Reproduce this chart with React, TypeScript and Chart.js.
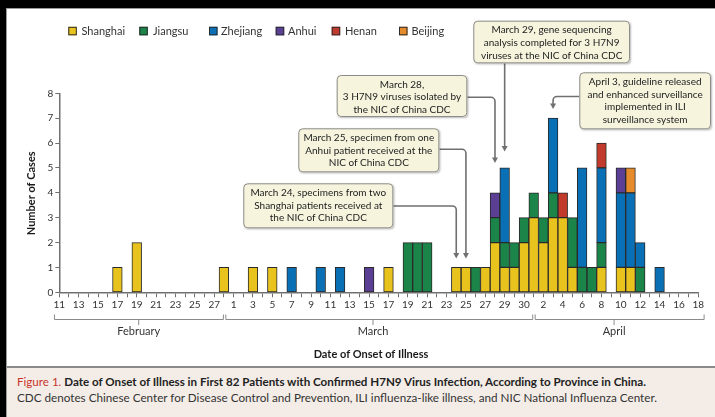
import { useEffect, useRef } from 'react';
import { Chart, registerables } from 'chart.js';

Chart.register(...registerables);

const FONT = 'Lato, "Open Sans", "Noto Sans", sans-serif';

// One category per day of onset, Feb 11 – Apr 18
const range = (a: number, b: number) => Array.from({ length: b - a + 1 }, (_, i) => a + i);
const categories: string[] = [
  ...range(11, 28).map((d) => `Feb ${d}`),
  ...range(1, 31).map((d) => `Mar ${d}`),
  ...range(1, 18).map((d) => `Apr ${d}`),
];

// Labels printed under every second day (as printed in the figure)
const tickLabels = [
  '11', '13', '15', '17', '19', '21', '23', '25', '27',
  '1', '3', '5', '7', '9', '11', '13', '15', '17', '19', '21', '23', '25', '27', '29', '30',
  '2', '4', '6', '8', '10', '12', '14', '16', '18',
];

// Cases per day.  Rows: Feb 11–28 | Mar 1–31 | Apr 1–18
const shanghai = [
  0, 0, 0, 0, 0, 0, 1, 0, 2, 0, 0, 0, 0, 0, 0, 0, 0, 1,
  0, 0, 1, 0, 1, 0, 0, 0, 0, 0, 0, 0, 0, 0, 0, 0, 1, 0, 0, 0, 0, 0, 0, 1, 1, 0, 1, 2, 1, 1, 2,
  3, 2, 3, 3, 1, 0, 0, 1, 0, 1, 1, 0, 0, 0, 0, 0, 0, 0,
];
const jiangsu = [
  0, 0, 0, 0, 0, 0, 0, 0, 0, 0, 0, 0, 0, 0, 0, 0, 0, 0,
  0, 0, 0, 0, 0, 0, 0, 0, 0, 0, 0, 0, 0, 0, 0, 0, 0, 0, 2, 2, 2, 0, 0, 0, 0, 1, 0, 1, 1, 1, 1,
  1, 1, 1, 0, 2, 1, 1, 1, 0, 0, 0, 1, 0, 0, 0, 0, 0, 0,
];
const zhejiang = [
  0, 0, 0, 0, 0, 0, 0, 0, 0, 0, 0, 0, 0, 0, 0, 0, 0, 0,
  0, 0, 0, 0, 0, 0, 1, 0, 0, 1, 0, 1, 0, 0, 0, 0, 0, 0, 0, 0, 0, 0, 0, 0, 0, 0, 0, 0, 3, 0, 0,
  0, 0, 3, 0, 0, 4, 0, 3, 0, 3, 3, 1, 0, 1, 0, 0, 0, 0,
];
const anhui = [
  0, 0, 0, 0, 0, 0, 0, 0, 0, 0, 0, 0, 0, 0, 0, 0, 0, 0,
  0, 0, 0, 0, 0, 0, 0, 0, 0, 0, 0, 0, 0, 0, 1, 0, 0, 0, 0, 0, 0, 0, 0, 0, 0, 0, 0, 1, 0, 0, 0,
  0, 0, 0, 0, 0, 0, 0, 0, 0, 1, 0, 0, 0, 0, 0, 0, 0, 0,
];
const henan = [
  0, 0, 0, 0, 0, 0, 0, 0, 0, 0, 0, 0, 0, 0, 0, 0, 0, 0,
  0, 0, 0, 0, 0, 0, 0, 0, 0, 0, 0, 0, 0, 0, 0, 0, 0, 0, 0, 0, 0, 0, 0, 0, 0, 0, 0, 0, 0, 0, 0,
  0, 0, 0, 1, 0, 0, 0, 1, 0, 0, 0, 0, 0, 0, 0, 0, 0, 0,
];
const beijing = [
  0, 0, 0, 0, 0, 0, 0, 0, 0, 0, 0, 0, 0, 0, 0, 0, 0, 0,
  0, 0, 0, 0, 0, 0, 0, 0, 0, 0, 0, 0, 0, 0, 0, 0, 0, 0, 0, 0, 0, 0, 0, 0, 0, 0, 0, 0, 0, 0, 0,
  0, 0, 0, 0, 0, 0, 0, 0, 0, 0, 1, 0, 0, 0, 0, 0, 0, 0,
];

const provinces = ['Shanghai', 'Jiangsu', 'Zhejiang', 'Anhui', 'Henan', 'Beijing'];
const provinceValues = [shanghai, jiangsu, zhejiang, anhui, henan, beijing];
const provinceColors = ['#e9c31d', '#1b8449', '#0a70b6', '#5b3f95', '#c23a2b', '#e58b2c'];

// Legend: swatch x and text x for each province
const legendPos: [number, number][] = [
  [68.3, 81.5], [139.3, 153], [209, 221], [275.7, 288], [331.7, 345], [399, 411.5],
];

// Month brackets under the day axis, in day-index units
const months = [
  { name: 'February', from: -0.5, to: 16.95, mid: 8.2 },
  { name: 'March', from: 17.2, to: 48.9, mid: 32.4 },
  { name: 'April', from: 49.15, to: 66.6, mid: 57.3 },
];

// Call-outs: text, box [x, y, w, h], day index pointed at, arrow tip (cases), leader
type Note = { lines: string[]; box: number[]; day: number; tip: number; exit: 'left' | 'right' | 'bottom'; exitY?: number };
const notes: Note[] = [
  { lines: ['March 24, specimens from two', 'Shanghai patients received at', 'the NIC of China CDC'], box: [243.3, 183.3, 150, 45], day: 41, tip: 1.36, exit: 'right', exitY: 206 },
  { lines: ['March 25, specimen from one', 'Anhui patient received at the', 'NIC of China CDC'], box: [298.3, 128.3, 141, 44], day: 42, tip: 1.36, exit: 'right', exitY: 149.3 },
  { lines: ['March 28,', '3 H7N9 viruses isolated by', 'the NIC of China CDC'], box: [336.7, 75, 130.6, 42], day: 45, tip: 5.2, exit: 'right', exitY: 97.3 },
  { lines: ['March 29, gene sequencing', 'analysis completed for 3 H7N9', 'viruses at the NIC of China CDC'], box: [473.3, 20.7, 156.7, 42.6], day: 46, tip: 5.66, exit: 'bottom' },
  { lines: ['April 3, guideline released', 'and enhanced surveillance', 'implemented in ILI', 'surveillance system'], box: [579.3, 72.3, 131.7, 57], day: 51, tip: 7.37, exit: 'left', exitY: 96.5 },
];

const decor = {
  id: 'decor',
  afterDraw(chart: any) {
    const { ctx } = chart;
    const xs = chart.scales.x;
    const ys = chart.scales.y;
    const px = (i: number) => xs.getPixelForValue(i);
    ctx.save();

    // legend
    ctx.font = `11px ${FONT}`;
    ctx.textBaseline = 'middle';
    ctx.textAlign = 'left';
    chart.data.datasets.forEach((ds: any, i: number) => {
      const [sx, tx] = legendPos[i];
      ctx.fillStyle = ds.backgroundColor;
      ctx.fillRect(sx, 26.8, 8.5, 8.5);
      ctx.strokeStyle = '#2b2b2b';
      ctx.lineWidth = 1;
      ctx.strokeRect(sx + 0.5, 27.3, 7.5, 7.5);
      ctx.fillStyle = '#333';
      ctx.fillText(ds.label, tx, 31.5);
    });

    // axis titles
    ctx.fillStyle = '#1a1a1a';
    ctx.font = `bold 11px ${FONT}`;
    ctx.textAlign = 'center';
    ctx.fillText('Date of Onset of Illness', 371, 354.5);
    ctx.save();
    ctx.translate(31, 193.3);
    ctx.rotate(-Math.PI / 2);
    ctx.fillText('Number of Cases', 0, 0);
    ctx.restore();

    // month brackets
    ctx.strokeStyle = '#8a8a8a';
    ctx.lineWidth = 1;
    ctx.font = `11px ${FONT}`;
    ctx.fillStyle = '#333';
    months.forEach((m) => {
      const a = px(m.from);
      const b = px(m.to);
      const c = px(m.mid);
      ctx.beginPath();
      ctx.moveTo(a, 314.5);
      ctx.lineTo(a, 319.5);
      ctx.lineTo(b, 319.5);
      ctx.lineTo(b, 314.5);
      ctx.moveTo(c, 319.5);
      ctx.lineTo(c, 325);
      ctx.stroke();
      ctx.fillText(m.name, c, 331.5);
    });

    // call-outs
    const r = 4;
    notes.forEach((n) => {
      const [bx, by, bw, bh] = n.box;
      const x = px(n.day);
      const tipY = ys.getPixelForValue(n.tip);
      ctx.strokeStyle = '#707070';
      ctx.fillStyle = '#707070';
      ctx.lineWidth = 1.6;
      ctx.beginPath();
      if (n.exit === 'bottom') {
        ctx.moveTo(x, by + bh);
      } else if (n.exit === 'right') {
        ctx.moveTo(bx + bw, n.exitY!);
        ctx.lineTo(x - r, n.exitY!);
        ctx.arcTo(x, n.exitY!, x, n.exitY! + r, r);
      } else {
        ctx.moveTo(bx, n.exitY!);
        ctx.lineTo(x + r, n.exitY!);
        ctx.arcTo(x, n.exitY!, x, n.exitY! + r, r);
      }
      ctx.lineTo(x, tipY - 4);
      ctx.stroke();
      ctx.beginPath();
      ctx.moveTo(x - 3, tipY - 5.5);
      ctx.lineTo(x + 3, tipY - 5.5);
      ctx.lineTo(x, tipY);
      ctx.closePath();
      ctx.fill();

      ctx.save();
      ctx.shadowColor = 'rgba(0,0,0,0.28)';
      ctx.shadowBlur = 2;
      ctx.shadowOffsetX = 1;
      ctx.shadowOffsetY = 1;
      ctx.fillStyle = '#f7f4dd';
      ctx.beginPath();
      ctx.roundRect(bx, by, bw, bh, 4);
      ctx.fill();
      ctx.restore();
      ctx.strokeStyle = '#8c8c8c';
      ctx.lineWidth = 1;
      ctx.beginPath();
      ctx.roundRect(bx + 0.5, by + 0.5, bw - 1, bh - 1, 4);
      ctx.stroke();

      ctx.fillStyle = '#222';
      ctx.font = `10px ${FONT}`;
      ctx.textAlign = 'center';
      n.lines.forEach((t, i) => ctx.fillText(t, bx + bw / 2, by + 9.5 + i * 12.7));
    });
    ctx.restore();
  },
};

export default function App() {
  const ref = useRef<HTMLCanvasElement>(null);

  useEffect(() => {
    document.body.style.margin = '0';
    const chart = new Chart(ref.current!, {
      type: 'bar',
      data: {
        labels: categories,
        datasets: provinces.map((name, i) => ({
          label: name,
          data: provinceValues[i].map((v) => (v === 0 ? null : v)),
          backgroundColor: provinceColors[i],
          borderColor: '#2a2a2a',
          borderWidth: 1,
          borderSkipped: false,
          categoryPercentage: 1,
          barPercentage: 1,
          stack: 'cases',
        })),
      },
      options: {
        responsive: false,
        animation: false,
        devicePixelRatio: 1,
        layout: { padding: { left: 29.3, top: 93.3, right: 16.7, bottom: 53.7 } },
        plugins: { legend: { display: false }, tooltip: { enabled: false } },
        scales: {
          x: {
            stacked: true,
            offset: false,
            grid: { offset: false, drawOnChartArea: false, tickLength: 5, color: '#707070', lineWidth: 1 },
            border: { color: '#707070', width: 1.5 },
            ticks: {
              autoSkip: false,
              maxRotation: 0,
              minRotation: 0,
              padding: 1,
              color: '#333',
              font: { family: FONT, size: 10 },
              callback: (_v: any, i: number) => (i % 2 === 0 ? tickLabels[i / 2] : ''),
            },
            afterFit: (s: any) => { s.height = 20; },
          },
          y: {
            stacked: true,
            min: 0,
            max: 8,
            grid: { drawOnChartArea: false, tickLength: 4, color: '#707070', lineWidth: 1 },
            border: { color: '#707070', width: 1.5 },
            ticks: { stepSize: 1, padding: 2, color: '#333', font: { family: FONT, size: 10 } },
            afterFit: (s: any) => { s.width = 30; },
          },
        },
      },
      plugins: [decor],
    });
    return () => chart.destroy();
  }, []);

  return (
    <div style={{ position: 'absolute', left: 0, top: 0, width: 715, height: 417, background: '#000', overflow: 'hidden', fontFamily: FONT }}>
      <div style={{ position: 'absolute', left: 6, top: 8, right: 0, bottom: 0, background: '#fff', borderLeft: '1px solid #9a9a9a', borderTop: '1px solid #9a9a9a' }} />
      <canvas ref={ref} width={715} height={366} style={{ position: 'absolute', left: 0, top: 0, width: 715, height: 366 }} />
      <div style={{ position: 'absolute', left: 7, top: 366, width: 708, height: 51, borderTop: '2px solid #8a8a8a', background: '#f4ede7', boxSizing: 'border-box' }}>
        <div style={{ position: 'absolute', left: 10, top: 6, fontSize: 11.6, lineHeight: '15px', whiteSpace: 'nowrap', color: '#222' }}>
          <span style={{ color: '#c8342a' }}>Figure 1.</span>{' '}
          <b>Date of Onset of Illness in First 82 Patients with Confirmed H7N9 Virus Infection, According to Province in China.</b>
        </div>
        <div style={{ position: 'absolute', left: 10, top: 21.5, fontSize: 11.7, lineHeight: '15px', whiteSpace: 'nowrap', color: '#333' }}>
          CDC denotes Chinese Center for Disease Control and Prevention, ILI influenza-like illness, and NIC National Influenza Center.
        </div>
      </div>
    </div>
  );
}
